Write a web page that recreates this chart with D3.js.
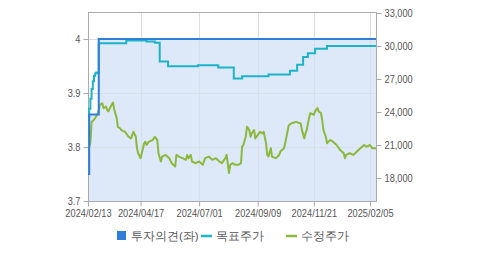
<!DOCTYPE html>
<html><head><meta charset="utf-8">
<script src="https://cdn.jsdelivr.net/npm/d3@7"></script>
<style>body{margin:0;background:#fff}svg{display:block}text{font-family:"Liberation Sans",Arial,sans-serif}</style>
</head><body><svg id="c" width="479" height="255"></svg>
<script>
const lastIndex = 241;
const tickIndex = [0, 44, 93, 142, 189, 236];
const tickLabels = ["2024/02/13","2024/04/17","2024/07/01","2024/09/09","2024/11/21","2025/02/05"];
const leftTicks = [3.7, 3.8, 3.9, 4];
const rightTicks = [18000, 21000, 24000, 27000, 30000, 33000];
const opinionIdx = [0, 1, 9];
const opinionVal = [3.75, 3.86, 4.0];
const targetIdx = [0,1,2,3,4,5,6,7,9,32,49,56,60,67,92,109,122,129,151,169,175,180,184,190,200];
const targetVal = [23600,24300,25200,26100,26800,27300,27500,27600,30250,30500,30400,30300,28600,28150,28250,28050,27050,27250,27400,27750,28300,29000,29350,29750,30000];
const priceIdx = [0,1,2,3,5,6,8,9,10,12,13,15,16,17,19,21,22,24,25,27,28,31,34,36,37,38,40,41,42,44,45,47,48,49,51,54,56,58,59,61,62,65,68,70,73,74,76,79,82,83,84,86,87,90,93,96,98,101,104,107,110,112,115,116,118,119,121,123,126,128,129,130,132,133,135,136,137,139,140,142,143,144,146,147,149,150,151,153,154,157,160,161,164,165,168,170,174,178,179,181,182,183,185,186,189,190,192,193,195,196,197,199,200,201,203,205,208,211,214,215,216,219,222,225,228,231,233,236,238,241];
const priceVal = [20800,20850,21200,23100,23300,23450,23800,24200,24650,24800,24350,24500,24200,24050,24500,24850,24200,23450,22650,22500,22350,22200,21750,21600,21900,22200,21750,20700,20250,19800,20250,21150,21300,21000,21300,21450,21750,21450,20250,19500,19950,20100,19800,19350,19050,20100,19950,19800,19650,20100,19800,20100,19500,19350,19500,19200,19800,19950,19650,19800,19500,19350,19800,20100,18450,19200,19350,19200,19200,19350,20850,21000,21750,22650,22350,21750,22050,22350,21600,21900,22050,22200,22050,22200,21150,20100,19950,20700,19950,19800,20100,20400,20700,21150,22800,22950,23100,22950,22350,21600,22050,22350,23450,23900,23750,24050,24350,24050,23900,23250,22350,21750,21150,21300,21450,21300,21000,20550,20250,19800,20100,20250,20100,20400,20700,21000,20850,21000,20700,20700];
const legendLabels = ["투자의견(좌)","목표주가","수정주가"];

const colors = {op:"#2f7ed8", tg:"#1bb4c8", pr:"#8cb83d", fill:"#dde8f8", grid:"#d8dfe8", axis:"#aaaaaa", text:"#555555"};
const L=88, R=376, T=12, B=201;
const svg = d3.select("#c");
const x = d3.scaleLinear().domain([0,lastIndex]).range([L,R]);
const yL = d3.scaleLinear().domain([3.7,4.05]).range([B,T]);
const yR = d3.scaleLinear().domain([15909,33091]).range([B,T]);

const opinion = opinionIdx.map((d,i)=>({i:d,v:opinionVal[i]})).concat([{i:lastIndex,v:opinionVal[opinionVal.length-1]}]);
const target = targetIdx.map((d,i)=>({i:d,v:targetVal[i]})).concat([{i:lastIndex,v:targetVal[targetVal.length-1]}]);
const price = priceIdx.map((d,i)=>({i:d,v:priceVal[i]}));

svg.append("path").datum(opinion)
  .attr("d", d3.area().curve(d3.curveStepAfter).x(d=>x(d.i)).y0(B).y1(d=>yL(d.v)))
  .attr("fill", colors.fill);

const g = svg.append("g");
leftTicks.filter(t=>t>3.7).forEach(t=>g.append("line").attr("x1",L).attr("x2",R).attr("y1",Math.round(yL(t))+0.5).attr("y2",Math.round(yL(t))+0.5).attr("stroke",colors.grid));
tickIndex.slice(1).forEach(t=>g.append("line").attr("x1",Math.round(x(t))+0.5).attr("x2",Math.round(x(t))+0.5).attr("y1",T).attr("y2",B).attr("stroke",colors.grid));

svg.append("rect").attr("x",L+0.5).attr("y",T+0.5).attr("width",R-L).attr("height",B-T).attr("fill","none").attr("stroke",colors.axis);

const axL = svg.append("g").attr("transform",`translate(${L+0.5},0)`).call(d3.axisLeft(yL).tickValues(leftTicks).tickFormat(d3.format("")).tickSize(5).tickSizeOuter(0));
const axR = svg.append("g").attr("transform",`translate(${R+0.5},0)`).call(d3.axisRight(yR).tickValues(rightTicks).tickFormat(d3.format(",")).tickSize(5).tickSizeOuter(0));
const axB = svg.append("g").attr("transform",`translate(0,${B+0.5})`).call(d3.axisBottom(x).tickValues(tickIndex).tickFormat((d,i)=>tickLabels[i]).tickSize(5).tickSizeOuter(0));
[axL,axR,axB].forEach(a=>{
  a.select(".domain").remove();
  a.selectAll("line").attr("stroke",colors.axis);
  a.selectAll("text").attr("fill",colors.text).style("font-size","10.5px")
   .each(function(){const w=this.getComputedTextLength(); d3.select(this).attr("textLength",w*0.88).attr("lengthAdjust","spacingAndGlyphs");});
});
axB.selectAll("text").attr("y",8).attr("dy","0.71em");

svg.append("path").datum(price).attr("d",d3.line().x(d=>x(d.i)).y(d=>yR(d.v))).attr("fill","none").attr("stroke",colors.pr).attr("stroke-width",2).attr("stroke-linejoin","round");
svg.append("path").datum(target).attr("d",d3.line().curve(d3.curveStepAfter).x(d=>x(d.i)).y(d=>yR(d.v))).attr("fill","none").attr("stroke",colors.tg).attr("stroke-width",2);
svg.append("path").datum(opinion).attr("d",d3.line().curve(d3.curveStepAfter).x(d=>x(d.i)).y(d=>yL(d.v))).attr("fill","none").attr("stroke",colors.op).attr("stroke-width",2);

const lg = svg.append("g").style("font-family","'Noto Sans CJK KR',sans-serif").style("font-size","11.5px");
lg.append("rect").attr("x",117).attr("y",231).attr("width",9).attr("height",9).attr("fill",colors.op);
lg.append("text").attr("x",131).attr("y",240).attr("fill",colors.text).text(legendLabels[0]);
lg.append("line").attr("x1",201).attr("x2",212).attr("y1",236).attr("y2",236).attr("stroke",colors.tg).attr("stroke-width",2.5);
lg.append("text").attr("x",216).attr("y",240).attr("fill",colors.text).text(legendLabels[1]);
lg.append("line").attr("x1",286).attr("x2",297).attr("y1",236).attr("y2",236).attr("stroke",colors.pr).attr("stroke-width",2.5);
lg.append("text").attr("x",301).attr("y",240).attr("fill",colors.text).text(legendLabels[2]);
</script></body></html>
